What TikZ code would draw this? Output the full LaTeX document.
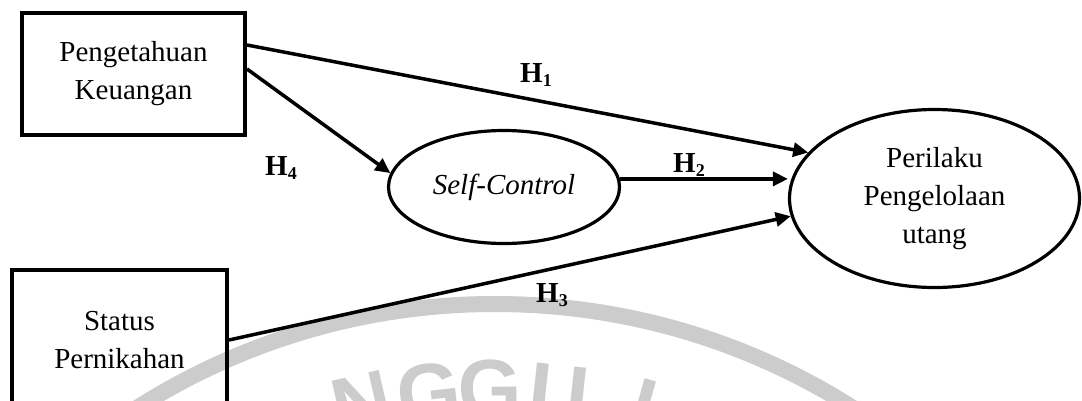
\documentclass[tikz,border=0pt]{standalone}
\usepackage{fontspec}
\setmainfont{Liberation Serif}
\newfontfamily\wmfont{Liberation Sans}
\usetikzlibrary{arrows.meta,shapes.geometric}
\definecolor{wmgray}{RGB}{204,204,204}
\newcommand\mainfs{\fontsize{29}{38}\selectfont}
\newcommand\wmfs{\fontsize{82}{82}\selectfont\wmfont\bfseries}
\newcommand\hsub[1]{\raisebox{-4pt}{\fontsize{18}{18}\selectfont #1}}
\begin{document}
\begin{tikzpicture}[x=1pt,y=-1pt,
  boxnode/.style={draw, line width=4pt, rectangle, inner sep=0pt, align=center, font=\mainfs},
  ellnode/.style={draw, line width=3.2pt, ellipse, inner sep=0pt, align=center, font=\mainfs},
  arr/.style={line width=3.5pt, -{Triangle[length=15pt,width=14pt]}},
  hlabel/.style={inner sep=0pt, anchor=base west, font=\mainfs\bfseries},
  wm/.style={text=wmgray, font=\wmfs, inner sep=0pt, anchor=north},
]
\useasboundingbox (0,0) rectangle (1082,400);
\fill[white] (0,0) rectangle (1082,400);
% watermark
\begin{scope}
  \clip (0,0) rectangle (1082,400);
  \draw[wmgray, line width=16pt] (495,972) circle[radius=668];
  \node[wm, rotate=13]    (wmN)  at (356,376) {N};
  \node[wm, rotate=6.4]   (wmG1) at (426,364) {G};
  \node[wm, rotate=0.75]  (wmG2) at (490,360) {G};
  \node[wm, rotate=-6.2]  (wmU)  at (562,365) {U};
  \node[wm, rotate=-15.7] (wmL)  at (664,384) {L};
\end{scope}
% nodes
\node[boxnode, minimum width=223pt, minimum height=122pt] (pk) at (133.5,74) {Pengetahuan\\Keuangan};
\node[boxnode, minimum width=215pt, minimum height=140pt] (sp) at (119.5,340) {Status\\Pernikahan};
\node[ellnode, minimum width=231pt, minimum height=113pt] (sc) at (504,187) {\textit{Self-Control}};
\node[ellnode, minimum width=290pt, minimum height=178pt] (pp) at (934.5,198.5) {Perilaku\\Pengelolaan\\utang};
% connectors
\draw[arr] ([yshift=29pt]pk.east) -- (pp.160);
\draw[arr] ([yshift=5pt]pk.east) -- (sc.173);
\draw[arr] (sc.4) -- (sc.4 -| pp.west);
\draw[arr] (sp.east) -- (pp.187);
% labels
\node[hlabel] (h1) at (520,82) {H\hsub{1}};
\node[hlabel] (h2) at (673,172) {H\hsub{2}};
\node[hlabel] (h3) at (536,302) {H\hsub{3}};
\node[hlabel] (h4) at (265,175) {H\hsub{4}};
\end{tikzpicture}
\end{document}
